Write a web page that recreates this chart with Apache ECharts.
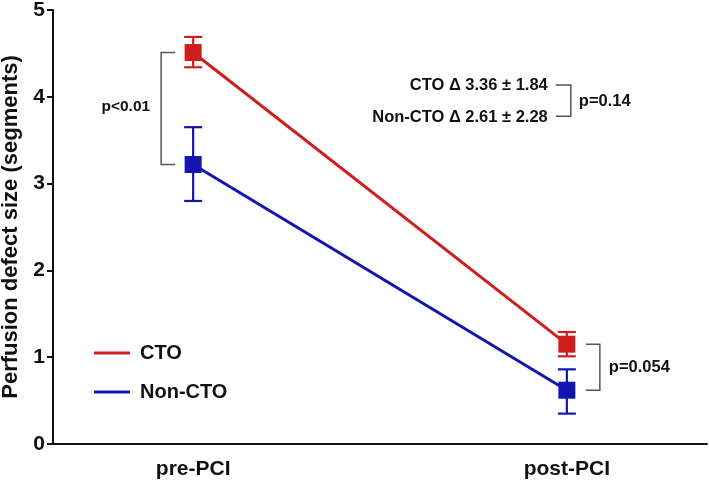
<!DOCTYPE html>
<html>
<head>
<meta charset="utf-8">
<script src="https://cdn.jsdelivr.net/npm/echarts@6/dist/echarts.min.js"></script>
<style>html,body{margin:0;padding:0;background:#fff}#c{width:709px;height:483px}</style>
</head>
<body>
<div id="c"></div>
<script>
// ---- data ----
const categories = ['pre-PCI', 'post-PCI'];
const seriesNames = ['CTO', 'Non-CTO'];
const ctoMean = [4.51, 1.15];
const ctoLow = [4.34, 1.01];
const ctoHigh = [4.69, 1.29];
const nonCtoMean = [3.22, 0.62];
const nonCtoLow = [2.80, 0.35];
const nonCtoHigh = [3.65, 0.86];
const yTicks = [0, 1, 2, 3, 4, 5];
const deltaText = ['CTO \u0394 3.36 \u00b1 1.84', 'Non-CTO \u0394 2.61 \u00b1 2.28'];
const pTexts = ['p<0.01', 'p=0.054', 'p=0.14'];

const RED = '#cf1e1e';
const BLUE = '#1414b0';
const GREY = '#555555';
const FONT = '"Liberation Sans", Arial, Helvetica, sans-serif';

const chart = echarts.init(document.getElementById('c'), null, {renderer: 'canvas'});

function pts(means) { return means.map((v, i) => [i, v]); }
function errData(low, high) { return low.map((v, i) => [i, low[i], high[i]]); }

function errRender(color) {
  return function (params, api) {
    const x = api.value(0);
    const lo = api.coord([x, api.value(1)]);
    const hi = api.coord([x, api.value(2)]);
    const half = 9;
    const st = {stroke: color, lineWidth: 2.2};
    return {
      type: 'group',
      children: [
        {type: 'line', shape: {x1: lo[0], y1: lo[1], x2: hi[0], y2: hi[1]}, style: st},
        {type: 'line', shape: {x1: lo[0] - half, y1: lo[1], x2: lo[0] + half, y2: lo[1]}, style: st},
        {type: 'line', shape: {x1: hi[0] - half, y1: hi[1], x2: hi[0] + half, y2: hi[1]}, style: st}
      ]
    };
  };
}

function annRender(params, api) {
  const c = (x, y) => api.coord([x, y]);
  const st = {stroke: GREY, lineWidth: 1.5};
  const txt = (p, text, align, size) => ({
    type: 'text', x: p[0], y: p[1],
    style: {text: text, fill: '#111', font: 'bold ' + size + 'px ' + FONT, align: align, verticalAlign: 'middle'}
  });
  const ch = [];
  // pre-PCI bracket
  const a1 = c(0, ctoMean[0]), a2 = c(0, nonCtoMean[0]);
  const bx = a1[0] - 32, tx = a1[0] - 18;
  ch.push({type: 'polyline', shape: {points: [[tx, a1[1]], [bx, a1[1]], [bx, a2[1]], [tx, a2[1]]]}, style: Object.assign({fill: null}, st)});
  ch.push(txt([bx - 11, (a1[1] + a2[1]) / 2 - 2], pTexts[0], 'right', 15.5));
  // post-PCI bracket
  const b1 = c(1, ctoMean[1]), b2 = c(1, nonCtoMean[1]);
  const px = b1[0] + 33, ptx = b1[0] + 19;
  ch.push({type: 'polyline', shape: {points: [[ptx, b1[1]], [px, b1[1]], [px, b2[1]], [ptx, b2[1]]]}, style: Object.assign({fill: null}, st)});
  ch.push(txt([px + 9, (b1[1] + b2[1]) / 2], pTexts[1], 'left', 16.5));
  // delta comparison
  const d1 = c(0.949, 4.125), d2 = c(0.949, 3.765);
  ch.push(txt(d1, deltaText[0], 'right', 16.5));
  ch.push(txt(d2, deltaText[1], 'right', 16.5));
  const qx = d1[0] + 23, qtx = d1[0] + 8;
  ch.push({type: 'polyline', shape: {points: [[qtx, d1[1] - 1], [qx, d1[1] - 1], [qx, d2[1] - 1], [qtx, d2[1] - 1]]}, style: Object.assign({fill: null}, st)});
  ch.push(txt([qx + 8, (d1[1] + d2[1]) / 2], pTexts[2], 'left', 16.5));
  return {type: 'group', children: ch};
}

const option = {
  animation: false,
  backgroundColor: '#fff',
  grid: {left: 53, right: 2, top: 10, bottom: 39, containLabel: false, outerBoundsMode: 'none'},
  legend: {
    orient: 'vertical', left: 94, top: 342, padding: 0,
    itemWidth: 36, itemHeight: 3, itemGap: 17,
    data: [
      {name: seriesNames[0], icon: 'rect'},
      {name: seriesNames[1], icon: 'rect'}
    ],
    textStyle: {fontFamily: FONT, fontWeight: 'bold', fontSize: 20, color: '#111', lineHeight: 22, padding: [0, 0, 0, 5]}
  },
  xAxis: {
    type: 'value', min: -0.375, max: 1.375, interval: 0.125,
    splitLine: {show: false},
    axisTick: {show: false},
    axisLine: {show: true, onZero: false, lineStyle: {color: '#111', width: 2}},
    axisLabel: {
      margin: 15, color: '#111', fontFamily: FONT, fontWeight: 'bold', fontSize: 21,
      showMinLabel: true, showMaxLabel: true,
      formatter: function (v) {
        const i = Math.round(v);
        return (Math.abs(v - i) < 1e-6 && categories[i] !== undefined) ? categories[i] : '';
      }
    }
  },
  yAxis: {
    type: 'value', min: yTicks[0], max: yTicks[yTicks.length - 1], interval: 1,
    name: 'Perfusion defect size (segments)', nameLocation: 'middle', nameGap: 30,
    nameTextStyle: {fontFamily: FONT, fontWeight: 'bold', fontSize: 22, color: '#111'},
    splitLine: {show: false},
    axisLine: {show: true, onZero: false, lineStyle: {color: '#111', width: 2}},
    axisTick: {show: true, length: 6, lineStyle: {color: '#111', width: 2}},
    axisLabel: {margin: 8, color: '#111', fontFamily: FONT, fontWeight: 'bold', fontSize: 21}
  },
  series: [
    {
      type: 'custom', name: 'cto-err', z: 1, silent: true,
      renderItem: errRender(RED), data: errData(ctoLow, ctoHigh)
    },
    {
      type: 'custom', name: 'noncto-err', z: 1, silent: true,
      renderItem: errRender(BLUE), data: errData(nonCtoLow, nonCtoHigh)
    },
    {
      type: 'line', name: seriesNames[0], data: pts(ctoMean), z: 3,
      symbol: 'rect', symbolSize: 17, color: RED,
      lineStyle: {color: RED, width: 3}, itemStyle: {color: RED}
    },
    {
      type: 'line', name: seriesNames[1], data: pts(nonCtoMean), z: 3,
      symbol: 'rect', symbolSize: 17, color: BLUE,
      lineStyle: {color: BLUE, width: 3}, itemStyle: {color: BLUE}
    },
    {
      type: 'custom', name: 'annotations', z: 2, silent: true,
      renderItem: annRender, data: [[0, 0]]
    }
  ]
};
chart.setOption(option);
</script>
</body>
</html>
